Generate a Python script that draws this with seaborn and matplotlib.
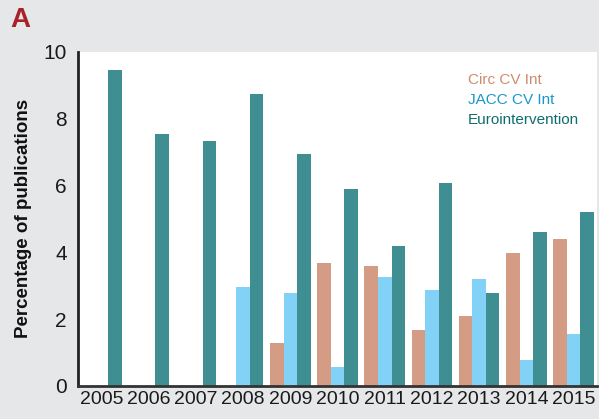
import pandas as pd
import matplotlib.pyplot as plt
import seaborn as sns
from matplotlib.ticker import FixedLocator

# ==================== 数据 ====================
years = ['2005', '2006', '2007', '2008', '2009', '2010',
         '2011', '2012', '2013', '2014', '2015']
circ = [None, None, None, None, 1.29, 3.69, 3.60, 1.68, 2.10, 3.99, 4.41]
jacc = [None, None, None, 2.97, 2.79, 0.57, 3.27, 2.88, 3.21, 0.78, 1.56]
euro = [9.45, 7.53, 7.32, 8.73, 6.93, 5.91, 4.20, 6.09, 2.79, 4.62, 5.22]
journals = ['Circ CV Int', 'JACC CV Int', 'Eurointervention']

df = pd.DataFrame({'year': years, journals[0]: circ,
                   journals[1]: jacc, journals[2]: euro})
df_long = df.melt(id_vars='year', var_name='journal', value_name='pct')

bar_colors = ['#D49C84', '#82D2F7', '#3F8E91']
text_colors = ['#CF8A6F', '#1897CF', '#0F6D6D']
bg = '#E6E7E9'

sns.set_style('white')
plt.rcParams['font.family'] = ['Liberation Sans', 'DejaVu Sans']

fig = plt.figure(figsize=(5.99, 4.19), dpi=100, facecolor=bg)
ax = fig.add_axes([0.130, 0.079, 0.867, 0.797])

sns.barplot(data=df_long, x='year', y='pct', hue='journal',
            hue_order=journals, palette=bar_colors, width=0.86,
            saturation=1, linewidth=0, ax=ax, legend=False)

ax.set_ylim(0, 10)
ax.set_xlim(-0.5, len(years) - 0.5)
ax.set_yticks([0, 2, 4, 6, 8, 10])
ax.tick_params(axis='y', labelsize=15, length=5, width=2, color='#222222',
               labelcolor='#1a1a1a', pad=3)

# 年份刻度线在组之间，标签在组中间
ax.xaxis.set_major_locator(FixedLocator([i - 0.5 for i in range(len(years) + 1)]))
ax.xaxis.set_minor_locator(FixedLocator(list(range(len(years)))))
ax.set_xticklabels([], minor=False)
ax.set_xticklabels(years, minor=True)
ax.tick_params(axis='x', which='major', length=6, width=2, color='#222222')
ax.tick_params(axis='x', which='minor', length=0, labelsize=14,
               labelcolor='#1a1a1a', pad=4)

ax.set_xlabel('')
ax.set_ylabel('Percentage of publications', fontsize=13.5, fontweight='bold',
              color='#111111', labelpad=8)

for side in ['top', 'right']:
    ax.spines[side].set_visible(False)
ax.spines['left'].set_color('#222222')
ax.spines['left'].set_linewidth(2)
ax.spines['bottom'].set_color('#333333')
ax.spines['bottom'].set_linewidth(2)

# 图例：只有彩色文字
for i, (name, c) in enumerate(zip(journals, text_colors)):
    ax.text(0.751, 0.917 - i * 0.06, name, color=c, fontsize=11,
            transform=ax.transAxes, va='center', ha='left')

fig.text(0.017, 0.952, 'A', color='#A8222A', fontsize=20,
         fontweight='bold', va='center', ha='left')

plt.savefig('out.png', dpi=100, facecolor=bg)
